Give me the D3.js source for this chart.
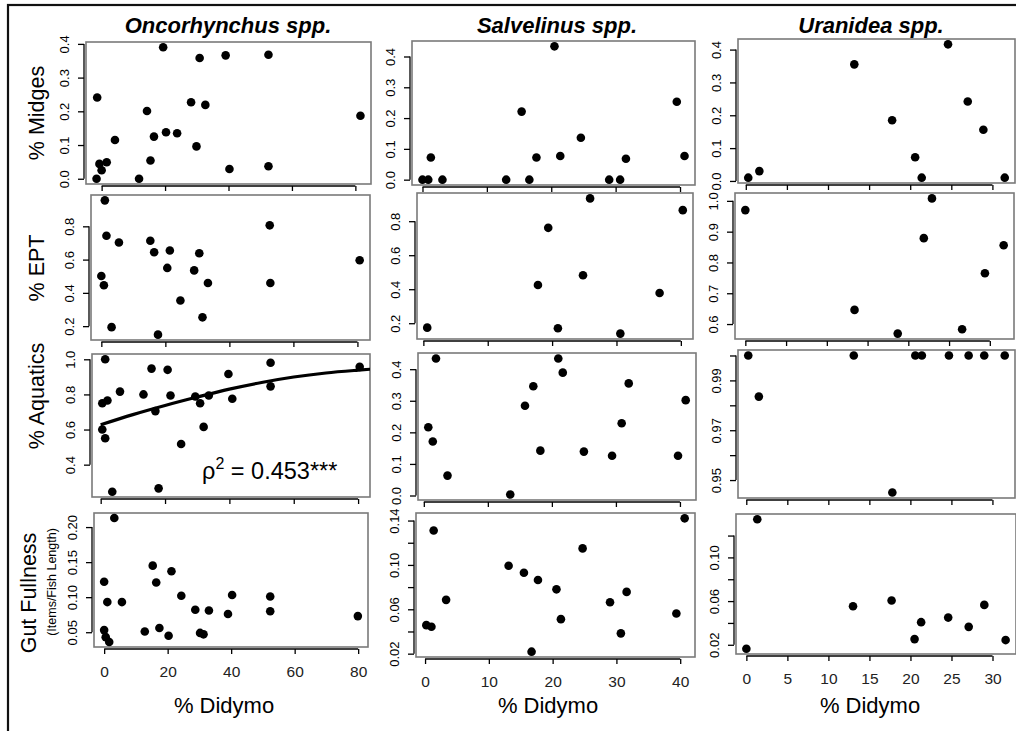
<!DOCTYPE html>
<html>
<head>
<meta charset="utf-8">
<script src="https://cdn.jsdelivr.net/npm/d3@7"></script>
<style>
  body { margin: 0; background: #fff; }
  svg { display: block; }
  text { font-family: "Liberation Sans", Arial, Helvetica, sans-serif; fill: #000; }
</style>
</head>
<body>
<div id="chart"></div>
<script>
// column titles, row labels and x ticks
const genera = ["Oncorhynchus spp.", "Salvelinus spp.", "Uranidea spp."];
const rowLabels = ["% Midges", "% EPT", "% Aquatics", "Gut Fullness"];
const didymoTicks = [[0, 20, 40, 60, 80], [0, 10, 20, 30, 40], [0, 5, 10, 15, 20, 25, 30]];

// Oncorhynchus spp.
const oncMidgesX = [-1.6, -1.4, -0.7, 0, 1.6, 4.2, 11.8, 14.3, 15.4, 16.5, 19.4, 20.3, 23.8, 28.2, 29.9, 30.9, 32.7, 39.1, 40.3, 52.6, 52.6, 81.6];
const oncMidgesY = [0, 0.241, 0.044, 0.025, 0.049, 0.115, 0, 0.201, 0.054, 0.125, 0.390, 0.138, 0.135, 0.227, 0.096, 0.358, 0.219, 0.366, 0.029, 0.368, 0.037, 0.187];
const oncEptX = [1.1, 1.6, 5.5, 0, 0.8, 3.2, 15.3, 16.5, 17.7, 21.4, 20.6, 29.0, 30.6, 31.6, 33.3, 24.7, 52.6, 52.8, 80.7];
const oncEptY = [0.956, 0.743, 0.703, 0.501, 0.446, 0.194, 0.713, 0.644, 0.149, 0.655, 0.55, 0.535, 0.638, 0.253, 0.459, 0.354, 0.806, 0.459, 0.596];
const oncAquaticsX = [0.5, 1.4, 2.1, 0.5, 1.4, 3.6, 6.0, 13.3, 15.8, 17.0, 18.0, 20.8, 21.7, 25.0, 29.4, 30.9, 32.0, 33.6, 39.7, 40.9, 52.8, 52.8, 80.5];
const oncAquaticsY = [0.750, 1.0, 0.765, 0.600, 0.550, 0.246, 0.816, 0.800, 0.947, 0.705, 0.265, 0.940, 0.794, 0.518, 0.788, 0.750, 0.615, 0.794, 0.916, 0.775, 0.980, 0.846, 0.957];
const oncGutX = [0, 0, 0.5, 1.0, 1.6, 3.2, 5.6, 12.8, 15.3, 16.4, 17.4, 20.3, 21.2, 24.3, 28.7, 30.2, 31.3, 33.0, 39.0, 40.3, 52.3, 52.3, 79.9];
const oncGutY = [0.122, 0.053, 0.043, 0.093, 0.036, 0.213, 0.093, 0.051, 0.145, 0.121, 0.056, 0.045, 0.137, 0.102, 0.082, 0.049, 0.047, 0.081, 0.076, 0.103, 0.101, 0.080, 0.073];

// fitted curve for Oncorhynchus % Aquatics
const fitX = [0, 10, 20, 30, 40, 50, 60, 70, 80, 85];
const fitY = [0.627, 0.685, 0.737, 0.785, 0.830, 0.868, 0.899, 0.922, 0.938, 0.945];

// Salvelinus spp.
const salMidgesX = [0, 0.9, 1.3, 3.1, 13.0, 15.4, 16.6, 17.7, 20.5, 21.4, 24.6, 29.0, 30.7, 31.6, 39.5, 40.7];
const salMidgesY = [0, 0, 0.072, 0, 0, 0.221, 0, 0.072, 0.433, 0.077, 0.136, 0, 0, 0.068, 0.253, 0.077];
const salEptX = [0.6, 17.8, 19.4, 20.9, 25.9, 24.8, 30.6, 36.7, 40.3];
const salEptY = [0.174, 0.425, 0.761, 0.170, 0.934, 0.482, 0.139, 0.378, 0.865];
const salAquaticsX = [0.7, 1.4, 1.9, 3.7, 13.5, 15.8, 17.1, 18.2, 21.0, 21.7, 25.0, 29.4, 30.9, 32.0, 39.7, 40.9];
const salAquaticsY = [0.216, 0.171, 0.434, 0.063, 0.003, 0.284, 0.346, 0.142, 0.434, 0.389, 0.139, 0.126, 0.229, 0.355, 0.126, 0.302];
const salGutX = [0.2, 1.0, 1.35, 3.3, 13.1, 15.5, 17.7, 16.7, 20.6, 21.3, 24.7, 29.0, 30.7, 31.6, 39.4, 40.7];
const salGutY = [0.0457, 0.0442, 0.131, 0.0685, 0.0993, 0.093, 0.0864, 0.0218, 0.078, 0.0511, 0.1149, 0.0664, 0.0383, 0.0757, 0.0562, 0.142];

// Uranidea spp.
const uraMidgesX = [0.3, 1.65, 13.2, 17.8, 20.6, 21.4, 24.6, 27.0, 28.9, 31.5];
const uraMidgesY = [0.010, 0.030, 0.355, 0.185, 0.072, 0.010, 0.416, 0.242, 0.156, 0.010];
const uraEptX = [0, 13.4, 18.7, 21.9, 22.9, 26.6, 29.4, 31.7];
const uraEptY = [0.970, 0.646, 0.569, 0.879, 1.008, 0.583, 0.765, 0.856];
const uraAquaticsX = [0.24, 1.53, 13.1, 17.8, 20.6, 21.4, 24.7, 27.1, 29.0, 31.5];
const uraAquaticsY = [1, 0.9835, 1, 0.945, 1, 1, 1, 1, 1, 1];
const uraGutX = [0, 1.33, 13.0, 17.7, 20.5, 21.3, 24.6, 27.1, 29.0, 31.6];
const uraGutY = [0.0163, 0.135, 0.0553, 0.0605, 0.0252, 0.0407, 0.0449, 0.0364, 0.0565, 0.0243];

// y ticks and which of them carry a label
const ticks01 = [0, 0.1, 0.2, 0.3, 0.4];
const ticksEpt = [0.2, 0.4, 0.6, 0.8];
const ticksUraEpt = [0.6, 0.7, 0.8, 0.9, 1.0];
const ticksOncAq = [0.4, 0.6, 0.8, 1.0];
const ticksUraAq = [0.95, 0.96, 0.97, 0.98, 0.99, 1.00];
const labelsUraAq = [0.95, 0.97, 0.99];
const ticksOncGut = [0.05, 0.10, 0.15, 0.20];
const ticksSalGut = [0.02, 0.04, 0.06, 0.08, 0.10, 0.12, 0.14];
const labelsSalGut = [0.02, 0.06, 0.10, 0.14];
const ticksUraGut = [0.02, 0.04, 0.06, 0.08, 0.10, 0.12];
const labelsUraGut = [0.02, 0.06, 0.10];

// plot boxes [left, right, top, bottom] (each panel was pasted separately)
const boxes = [
  [[86, 371, 42, 184], [412, 695, 41, 185], [738, 1015, 39, 183]],
  [[91, 370, 195, 340], [417, 693, 193, 339], [735, 1014, 193, 339]],
  [[92, 370, 354, 497], [418, 696, 353, 500], [738, 1015, 350, 498]],
  [[94, 368, 513, 647], [416, 695, 513, 657], [736, 1016, 514, 654]]
];

const panels = [
  {row: 0, col: 0, x: oncMidgesX, y: oncMidgesY, ticks: ticks01, labels: ticks01, fmt: ".1f"},
  {row: 0, col: 1, x: salMidgesX, y: salMidgesY, ticks: ticks01, labels: ticks01, fmt: ".1f"},
  {row: 0, col: 2, x: uraMidgesX, y: uraMidgesY, ticks: ticks01, labels: ticks01, fmt: ".1f"},
  {row: 1, col: 0, x: oncEptX, y: oncEptY, ticks: ticksEpt, labels: ticksEpt, fmt: ".1f"},
  {row: 1, col: 1, x: salEptX, y: salEptY, ticks: ticksEpt, labels: ticksEpt, fmt: ".1f"},
  {row: 1, col: 2, x: uraEptX, y: uraEptY, ticks: ticksUraEpt, labels: ticksUraEpt, fmt: ".1f"},
  {row: 2, col: 0, x: oncAquaticsX, y: oncAquaticsY, ticks: ticksOncAq, labels: ticksOncAq, fmt: ".1f", fit: true},
  {row: 2, col: 1, x: salAquaticsX, y: salAquaticsY, ticks: ticks01, labels: ticks01, fmt: ".1f"},
  {row: 2, col: 2, x: uraAquaticsX, y: uraAquaticsY, ticks: ticksUraAq, labels: labelsUraAq, fmt: ".2f"},
  {row: 3, col: 0, x: oncGutX, y: oncGutY, ticks: ticksOncGut, labels: ticksOncGut, fmt: ".2f"},
  {row: 3, col: 1, x: salGutX, y: salGutY, ticks: ticksSalGut, labels: labelsSalGut, fmt: ".2f"},
  {row: 3, col: 2, x: uraGutX, y: uraGutY, ticks: ticksUraGut, labels: labelsUraGut, fmt: ".2f"}
];

const width = 1016;
const height = 731;

const svg = d3.select("#chart").append("svg")
  .attr("width", width)
  .attr("height", height);

// outer frame
svg.append("rect")
  .attr("x", 8).attr("y", 5)
  .attr("width", 1100).attr("height", 800)
  .attr("fill", "none")
  .attr("stroke", "#111")
  .attr("stroke-width", 2.2);

// R style limits: data range padded by 4% each side
function rLimits(values) {
  const lo = d3.min(values), hi = d3.max(values);
  const pad = (hi - lo) * 0.04;
  return [lo - pad, hi + pad];
}

function near(list, v) {
  return list.some(function(l) { return Math.abs(l - v) < 1e-9; });
}

panels.forEach(drawPanel);

function drawPanel(p) {
  const b = boxes[p.row][p.col];
  const xScale = d3.scaleLinear().domain(rLimits(p.x)).range([b[0], b[1]]);
  const yScale = d3.scaleLinear().domain(rLimits(p.y)).range([b[3], b[2]]);
  const fmt = d3.format(p.fmt);
  const g = svg.append("g");

  // y axis, labels parallel to the axis
  const yAxis = d3.axisLeft(yScale)
    .tickValues(p.ticks)
    .tickSize(6)
    .tickFormat(function(d) { return near(p.labels, d) ? fmt(d) : ""; });
  const ya = g.append("g")
    .attr("transform", "translate(" + (b[0] - 2) + ",0)")
    .call(yAxis)
    .attr("font-size", null).attr("font-family", null);
  ya.select(".domain").remove();
  ya.append("line")
    .attr("y1", yScale(p.ticks[0])).attr("y2", yScale(p.ticks[p.ticks.length - 1]))
    .attr("stroke", "#000").attr("stroke-width", 1.3);
  ya.selectAll(".tick line").attr("stroke", "#000").attr("stroke-width", 1.3);
  ya.selectAll(".tick text")
    .attr("x", null).attr("dy", null)
    .attr("text-anchor", "middle")
    .attr("transform", "translate(-15,0) rotate(-90)")
    .style("font-size", "13px");

  // x axis, labels only on the bottom row
  const xAxis = d3.axisBottom(xScale)
    .tickValues(didymoTicks[p.col])
    .tickSize(5)
    .tickFormat(function(d) { return p.row === 3 ? d : ""; });
  const xa = g.append("g")
    .attr("transform", "translate(0," + (b[3] + 2) + ")")
    .call(xAxis)
    .attr("font-size", null).attr("font-family", null);
  xa.select(".domain").remove();
  const xt = didymoTicks[p.col];
  xa.append("line")
    .attr("x1", xScale(xt[0])).attr("x2", xScale(xt[xt.length - 1]))
    .attr("stroke", "#000").attr("stroke-width", 1.3);
  xa.selectAll(".tick line").attr("stroke", "#000").attr("stroke-width", 1.3);
  xa.selectAll(".tick text")
    .attr("y", 28).attr("dy", null)
    .style("font-size", "15.5px")
    .style("fill", "#222");

  // plot box
  g.append("rect")
    .attr("x", b[0]).attr("y", b[2])
    .attr("width", b[1] - b[0]).attr("height", b[3] - b[2])
    .attr("fill", "none")
    .attr("stroke", "#7a7a7a")
    .attr("stroke-width", 1.6);

  // fitted curve
  if (p.fit) {
    const clipId = "clip-" + p.row + "-" + p.col;
    g.append("clipPath").attr("id", clipId)
      .append("rect")
      .attr("x", b[0]).attr("y", b[2])
      .attr("width", b[1] - b[0]).attr("height", b[3] - b[2]);
    const line = d3.line()
      .x(function(d) { return xScale(d[0]); })
      .y(function(d) { return yScale(d[1]); })
      .curve(d3.curveMonotoneX);
    g.append("path")
      .datum(d3.zip(fitX, fitY))
      .attr("clip-path", "url(#" + clipId + ")")
      .attr("fill", "none")
      .attr("stroke", "#000")
      .attr("stroke-width", 3.2)
      .attr("d", line);

    const rho = g.append("text")
      .attr("x", xScale(31.5)).attr("y", yScale(0.318))
      .style("font-size", "23.5px");
    rho.append("tspan").text("\u03c1");
    rho.append("tspan").attr("dy", -10).style("font-size", "16px").text("2");
    rho.append("tspan").attr("dy", 10).text(" = 0.453***");
  }

  // points
  g.selectAll("circle")
    .data(d3.zip(p.x, p.y))
    .join("circle")
    .attr("cx", function(d) { return xScale(d[0]); })
    .attr("cy", function(d) { return yScale(d[1]); })
    .attr("r", 4.3)
    .attr("fill", "#000");
}

// column titles
const titleX = [228, 557, 871];
genera.forEach(function(name, i) {
  svg.append("text")
    .attr("x", titleX[i]).attr("y", 33)
    .attr("text-anchor", "middle")
    .style("font-size", "22px")
    .style("font-weight", "bold")
    .style("font-style", "italic")
    .text(name);
});

// row labels
const rowLabelY = [113, 268, 396, 593];
rowLabels.forEach(function(label, i) {
  const bx = i === 3 ? 36 : 44;
  svg.append("text")
    .attr("transform", "translate(" + bx + "," + rowLabelY[i] + ") rotate(-90)")
    .attr("text-anchor", "middle")
    .style("font-size", "21.5px")
    .text(label);
});
svg.append("text")
  .attr("transform", "translate(56,582) rotate(-90)")
  .attr("text-anchor", "middle")
  .style("font-size", "12.5px")
  .text("(Items/Fish Length)");

// x titles
const xTitleX = [224, 548, 870];
xTitleX.forEach(function(x) {
  svg.append("text")
    .attr("x", x).attr("y", 713)
    .attr("text-anchor", "middle")
    .style("font-size", "22px")
    .text("% Didymo");
});
</script>
</body>
</html>
